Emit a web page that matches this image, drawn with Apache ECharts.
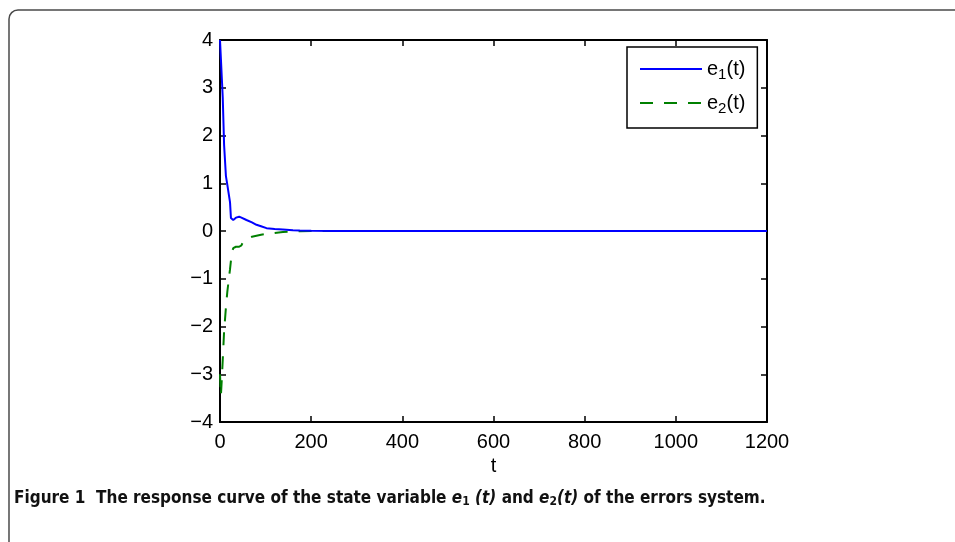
<!DOCTYPE html>
<html>
<head>
<meta charset="utf-8">
<script src="https://cdn.jsdelivr.net/npm/echarts@6/dist/echarts.min.js"></script>
<style>
  html, body { margin: 0; padding: 0; background: #fff; }
  #main { width: 955px; height: 542px; }
</style>
</head>
<body>
<div id="main"></div>
<script>
  // 数据（从图上读出来的）
  var tValues = [0, 2, 4, 6, 9, 13, 16, 20, 22, 24, 26, 29, 35, 42, 47, 51, 58, 70, 80, 90, 102, 120, 138, 160, 175, 200, 250, 300, 400, 600, 800, 1000, 1200];
  var e1Values = [4.0, 3.6, 3.2, 2.8, 1.8, 1.15, 0.97, 0.98, 0.6, 0.27, 0.25, 0.23, 0.28, 0.30, 0.28, 0.26, 0.23, 0.18, 0.13, 0.10, 0.06, 0.04, 0.03, 0.015, 0.01, 0.005, 0, 0, 0, 0, 0, 0, 0];
  var e2Values = [-3.0, -3.45, -3.1, -2.7, -2.1, -1.6, -1.28, -0.95, -0.8, -0.62, -0.45, -0.36, -0.33, -0.33, -0.30, -0.22, -0.17, -0.12, -0.10, -0.08, -0.06, -0.04, -0.02, -0.01, -0.005, 0, 0, 0, 0, 0, 0, 0, 0];
  var xTicks = [0, 200, 400, 600, 800, 1000, 1200];
  var yTicks = [-4, -3, -2, -1, 0, 1, 2, 3, 4];

  function pairs(xs, ys) {
    var out = [];
    for (var i = 0; i < xs.length; i++) {
      out.push([xs[i], ys[i]]);
    }
    return out;
  }

  var axisFont = '"Liberation Sans", Arial, sans-serif';
  var captionFont = '"Liberation Sans Narrow", "DejaVu Sans Condensed", sans-serif';

  var myChart = echarts.init(document.getElementById('main'), null, { renderer: 'canvas' });

  var tickStyle = { show: true, inside: true, length: 6, lineStyle: { color: '#000', width: 1.5 } };
  var lineStyle = { show: true, onZero: false, lineStyle: { color: '#000', width: 2 } };

  var option = {
    animation: false,
    backgroundColor: '#fff',
    grid: { left: 220, right: 188, top: 40, bottom: 120, containLabel: false },
    xAxis: [{
      type: 'value',
      min: xTicks[0],
      max: xTicks[xTicks.length - 1],
      interval: 200,
      name: 't',
      nameLocation: 'middle',
      nameGap: 34,
      nameTextStyle: { color: '#000', fontSize: 20, fontFamily: axisFont },
      axisLine: lineStyle,
      axisTick: tickStyle,
      splitLine: { show: false },
      axisLabel: {
        color: '#000', fontSize: 20, fontFamily: axisFont, margin: 10,
        formatter: function(v) { return String(v); }
      }
    }, {
      type: 'value',
      position: 'top',
      min: xTicks[0],
      max: xTicks[xTicks.length - 1],
      interval: 200,
      axisLine: lineStyle,
      axisTick: tickStyle,
      splitLine: { show: false },
      axisLabel: { show: false }
    }],
    yAxis: [{
      type: 'value',
      min: yTicks[0],
      max: yTicks[yTicks.length - 1],
      interval: 1,
      axisLine: lineStyle,
      axisTick: tickStyle,
      splitLine: { show: false },
      axisLabel: {
        color: '#000', fontSize: 20, fontFamily: axisFont, margin: 7,
        formatter: function(v) { return String(v).replace('-', '\u2212'); }
      }
    }, {
      type: 'value',
      position: 'right',
      min: yTicks[0],
      max: yTicks[yTicks.length - 1],
      interval: 1,
      axisLine: lineStyle,
      axisTick: tickStyle,
      splitLine: { show: false },
      axisLabel: { show: false }
    }],
    legend: {
      orient: 'vertical',
      left: 627,
      top: 47,
      padding: [12, 12, 12, 12],
      itemWidth: 62,
      itemHeight: 14,
      itemGap: 11,
      borderColor: '#000',
      borderWidth: 1.5,
      backgroundColor: '#fff',
      itemStyle: { opacity: 0 },
      data: ['e1', 'e2'],
      formatter: function(name) {
        return '{e|e}{s|' + name.charAt(1) + '}{e|(t)}';
      },
      textStyle: {
        color: '#000',
        rich: {
          e: { fontSize: 20, fontFamily: axisFont, color: '#000' },
          s: { fontSize: 15, fontFamily: axisFont, color: '#000', padding: [11, 0, 0, 0] }
        }
      }
    },
    series: [{
      name: 'e1',
      type: 'line',
      xAxisIndex: 0,
      yAxisIndex: 0,
      showSymbol: false,
      symbol: 'none',
      data: pairs(tValues, e1Values),
      lineStyle: { color: '#0000ff', width: 2 },
      itemStyle: { color: '#0000ff' },
      z: 3
    }, {
      name: 'e2',
      type: 'line',
      xAxisIndex: 0,
      yAxisIndex: 0,
      showSymbol: false,
      symbol: 'none',
      data: pairs(tValues, e2Values),
      lineStyle: { color: '#008000', width: 2, type: [13, 11] },
      itemStyle: { color: '#008000' },
      z: 2
    }],
    graphic: [{
      type: 'rect',
      silent: true,
      shape: { x: 9, y: 10, width: 980, height: 560, r: 9 },
      style: { fill: 'none', stroke: '#4a4a4a', lineWidth: 1.5 }
    }, {
      type: 'text',
      left: 14,
      top: 490,
      style: {
        text: '{b|Figure 1  The response curve of the state variable }{i|e}{sb|1}{i| (t)}{b| and }{i|e}{sb|2}{i|(t)}{b| of the errors system.}',
        rich: {
          b: { fontFamily: captionFont, fontWeight: 'bold', fontSize: 17, fill: '#111' },
          i: { fontFamily: captionFont, fontWeight: 'bold', fontStyle: 'italic', fontSize: 17, fill: '#111' },
          sb: { fontFamily: captionFont, fontWeight: 'bold', fontSize: 12, fill: '#111', padding: [6, 0, 0, 0] }
        }
      }
    }]
  };

  myChart.setOption(option);
</script>
</body>
</html>
